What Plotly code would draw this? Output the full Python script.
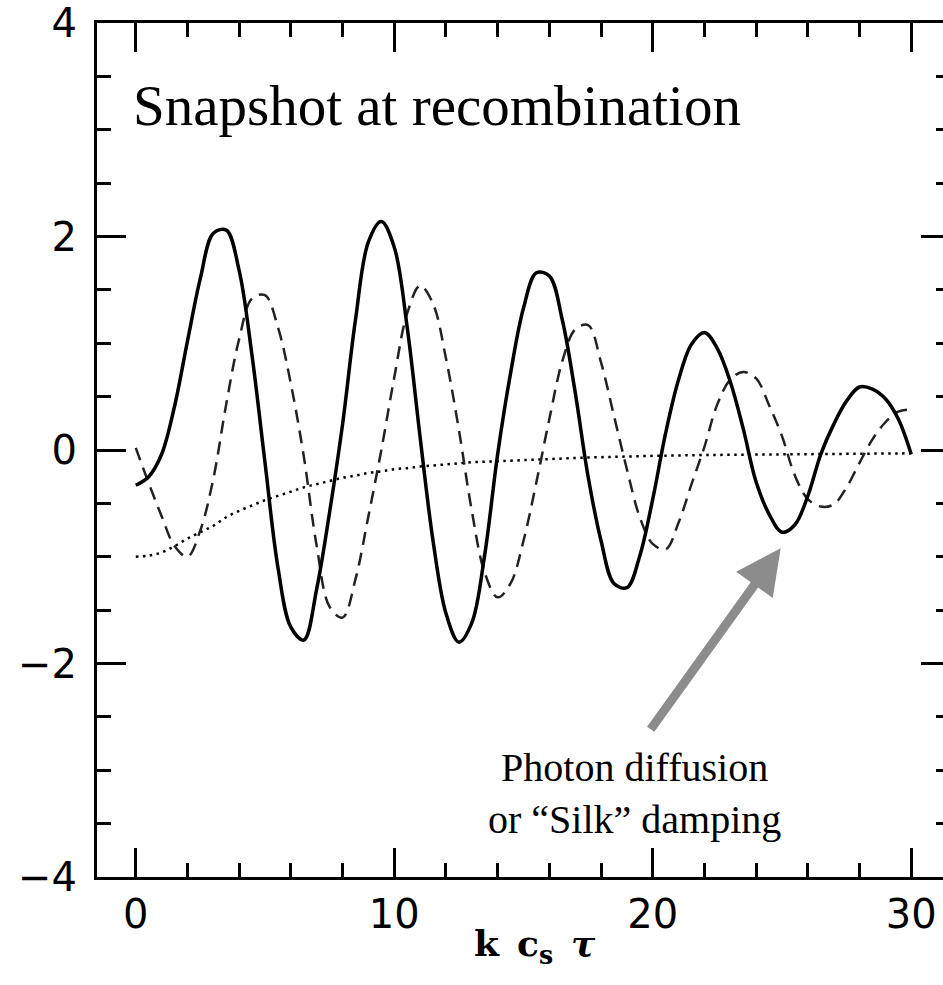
import plotly.graph_objects as go

# Sample grid in k c_s tau
k_cs_tau = [0.0, 0.5, 1.0, 1.5, 2.0, 2.5, 3.0, 3.5, 4.0, 4.5,
            5.0, 5.5, 6.0, 6.5, 7.0, 7.5, 8.0, 8.5, 9.0, 9.5,
            10.0, 10.5, 11.0, 11.5, 12.0, 12.5, 13.0, 13.5, 14.0, 14.5,
            15.0, 15.5, 16.0, 16.5, 17.0, 17.5, 18.0, 18.5, 19.0, 19.5,
            20.0, 20.5, 21.0, 21.5, 22.0, 22.5, 23.0, 23.5, 24.0, 24.5,
            25.0, 25.5, 26.0, 26.5, 27.0, 27.5, 28.0, 28.5, 29.0, 29.5,
            30.0]

# Effective temperature (solid)
temperature = [-0.33, -0.25, -0.04, 0.41, 1.02, 1.61, 2.03, 2.06, 1.68, 0.88,
               -0.12, -1.10, -1.66, -1.78, -1.30, -0.58, 0.24, 1.22, 1.95, 2.14,
               1.90, 1.15, 0.12, -0.85, -1.53, -1.80, -1.62, -0.98, -0.04, 0.72,
               1.33, 1.66, 1.63, 1.22, 0.54, -0.25, -0.85, -1.25, -1.29, -0.99,
               -0.46, 0.16, 0.66, 0.99, 1.10, 0.95, 0.64, 0.20, -0.30, -0.60,
               -0.77, -0.70, -0.43, -0.04, 0.24, 0.46, 0.59, 0.57, 0.48, 0.29,
               -0.04]

# Velocity (dashed)
velocity = [0.02, -0.31, -0.62, -0.90, -1.00, -0.75, -0.27, 0.43, 1.04, 1.42,
            1.45, 1.15, 0.62, -0.06, -0.90, -1.47, -1.57, -1.21, -0.62, 0.00,
            0.68, 1.28, 1.54, 1.37, 0.86, 0.19, -0.57, -1.15, -1.38, -1.25,
            -0.85, -0.30, 0.29, 0.83, 1.13, 1.17, 0.82, 0.32, -0.18, -0.63,
            -0.88, -0.93, -0.68, -0.32, 0.03, 0.43, 0.66, 0.73, 0.67, 0.42,
            0.13, -0.24, -0.46, -0.53, -0.51, -0.35, -0.12, 0.10, 0.26, 0.36,
            0.38]

# Gravitational potential (dotted)
potential = [-1.00, -0.99, -0.96, -0.90, -0.83, -0.77, -0.71, -0.63, -0.57, -0.52,
             -0.47, -0.43, -0.39, -0.35, -0.32, -0.29, -0.26, -0.24, -0.215, -0.20,
             -0.18, -0.17, -0.155, -0.145, -0.135, -0.125, -0.115, -0.11, -0.105, -0.10,
             -0.095, -0.09, -0.085, -0.08, -0.075, -0.07, -0.067, -0.064, -0.061, -0.058,
             -0.055, -0.053, -0.051, -0.049, -0.047, -0.046, -0.045, -0.044, -0.043, -0.042,
             -0.041, -0.040, -0.039, -0.038, -0.037, -0.036, -0.035, -0.034, -0.033, -0.032,
             -0.031]

x_ticks = [0, 10, 20, 30]
y_ticks = [-4, -2, 0, 2, 4]

fig = go.Figure()

fig.add_trace(go.Scatter(
    x=k_cs_tau, y=potential, mode="lines", line_shape="spline",
    line=dict(color="black", width=2.5, dash="2.5px,4.5px"), hoverinfo="skip"))
fig.add_trace(go.Scatter(
    x=k_cs_tau, y=velocity, mode="lines", line_shape="spline",
    line=dict(color="#222222", width=2.5, dash="13px,8px"), hoverinfo="skip"))
fig.add_trace(go.Scatter(
    x=k_cs_tau, y=temperature, mode="lines", line_shape="spline",
    line=dict(color="black", width=3.5), hoverinfo="skip"))

tick_font = dict(family="DejaVu Sans", size=40, color="black")

fig.update_xaxes(
    range=[-1.5, 31.5], tickvals=x_ticks, ticktext=[str(v) for v in x_ticks],
    ticks="inside", ticklen=29, tickwidth=2.5, tickcolor="black",
    minor=dict(dtick=2, tick0=0, ticks="inside", ticklen=14, tickwidth=2.5,
               tickcolor="black", showgrid=False),
    showline=True, linewidth=3, linecolor="black", mirror="ticks",
    showgrid=False, zeroline=False, tickfont=tick_font, ticklabelstandoff=0,
    automargin=False)

fig.update_yaxes(
    range=[-4, 4], tickvals=y_ticks, ticktext=["\u22124", "\u22122", "0", "2", "4"],
    ticks="inside", ticklen=29, tickwidth=2.5, tickcolor="black",
    minor=dict(dtick=0.5, tick0=0, ticks="inside", ticklen=14, tickwidth=2.5,
               tickcolor="black", showgrid=False),
    showline=True, linewidth=3, linecolor="black", mirror="ticks",
    showgrid=False, zeroline=False, tickfont=tick_font, ticklabelstandoff=9,
    automargin=False)

fig.add_annotation(
    x=-0.17, y=3.23, xref="x", yref="y", xanchor="left", yanchor="middle",
    text="Snapshot at recombination", showarrow=False,
    font=dict(family="Liberation Serif", size=57, color="black"))

fig.add_annotation(
    x=19.3, y=-3.22, xref="x", yref="y", xanchor="center", yanchor="middle",
    text="Photon diffusion<br>or \u201cSilk\u201d damping", showarrow=False, align="center",
    font=dict(family="Liberation Serif", size=40, color="black"))

# Arrow pointing at the damped oscillation
fig.add_annotation(
    x=24.95, y=-0.92, xref="x", yref="y", ax=19.88, ay=-2.63, axref="x", ayref="y",
    text="", showarrow=True, arrowhead=2, arrowsize=1.0, arrowwidth=9,
    arrowcolor="#8c8c8c")

fig.add_annotation(
    x=15.45, y=-0.081, xref="x", yref="paper", xanchor="center", yanchor="middle",
    text="<b>k\u2002c<sub>s</sub>\u2002<i>\u03c4</i></b>", showarrow=False,
    font=dict(family="DejaVu Serif", size=36, color="black"))

fig.update_layout(
    width=960, height=985,
    margin=dict(l=97, r=10, t=23, b=108, autoexpand=False),
    paper_bgcolor="white", plot_bgcolor="white",
    showlegend=False)

fig.write_html(
    "out.html",
    post_script="document.documentElement.style.overflow='hidden';"
                "document.body.style.overflow='hidden';document.body.style.margin='0';")
